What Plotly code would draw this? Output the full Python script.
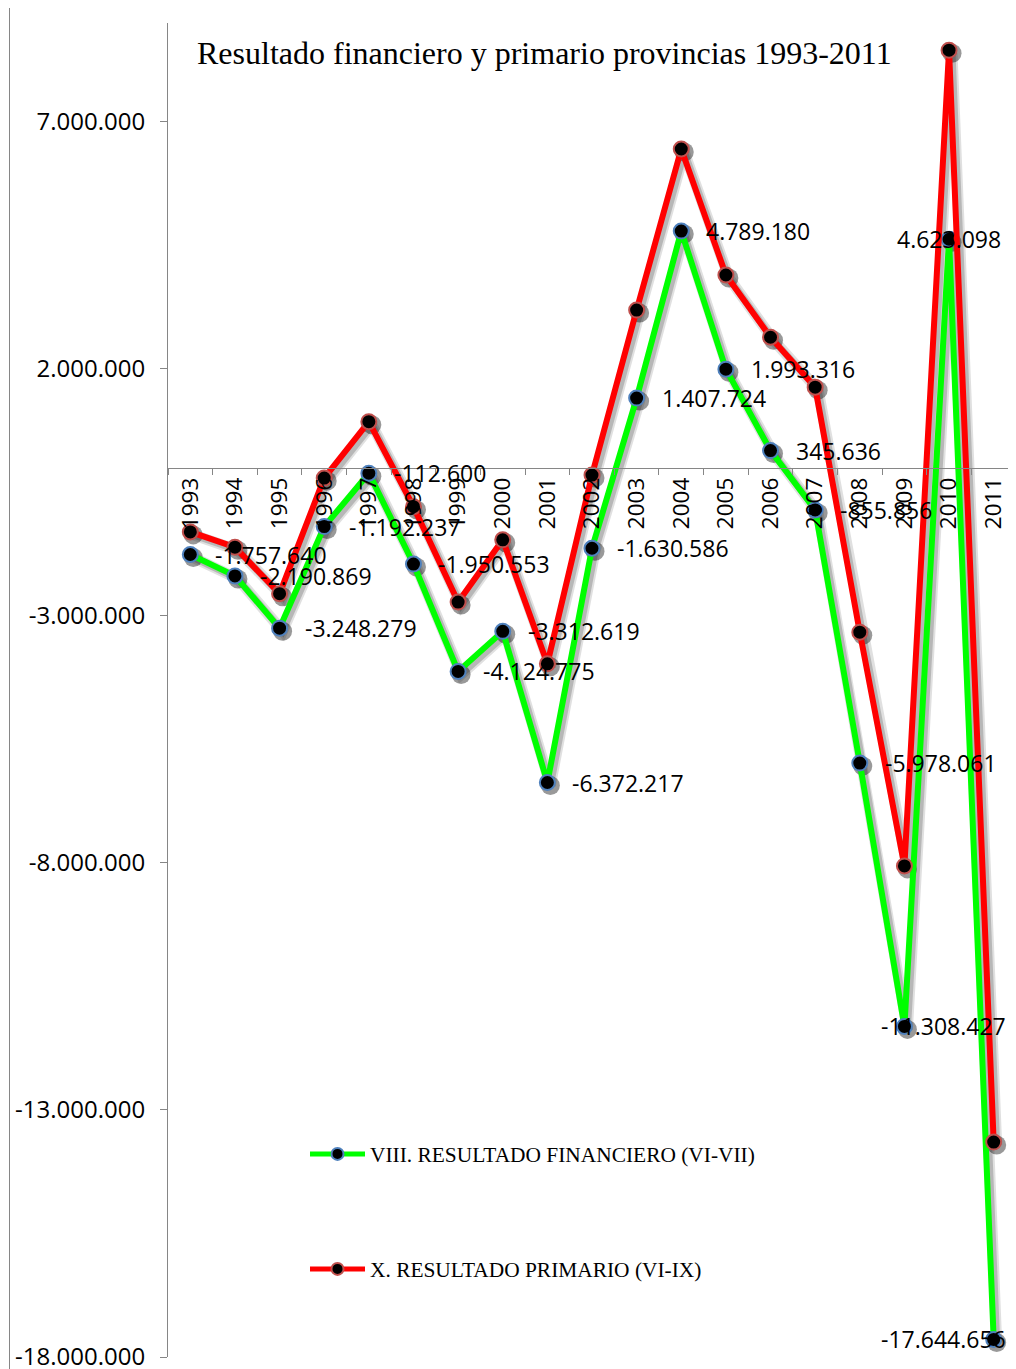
import plotly.graph_objects as go

years = [str(y) for y in range(1993, 2012)]
financiero = [-1757640, -2190869, -3248279, -1192237, -112600, -1950553, -4124775,
              -3312619, -6372217, -1630586, 1407724, 4789180, 1993316, 345636,
              -855856, -5978061, -11308427, 4623098, -17644656]
primario = [-1300000, -1610000, -2550000, -210000, 930000, -790000, -2720000,
            -1460000, -3970000, -150000, 3190000, 6450000, 3900000, 2640000,
            1630000, -3330000, -8060000, 8450000, -13650000]
ytick_vals = [7000000, 2000000, -3000000, -8000000, -13000000, -18000000]
title_text = "Resultado financiero y primario provincias 1993-2011"
name_fin = "VIII. RESULTADO FINANCIERO (VI-VII)"
name_pri = "X. RESULTADO PRIMARIO (VI-IX)"

OFF = 8  # page body margin of the html page
DX, DY = 3, 3  # shadow offset in px
W, H = 1016 - OFF, 1369 - OFF
ML, MR, MT = 168 - OFF, 0, 23 - OFF
MB = (H + OFF) - 1360
PW, PH = W - ML - MR, H - MT - MB
YMIN, YMAX = -18000000, 9000000
n = len(years)


def px_x(page_x):
    return (page_x - OFF - ML) / PW


def px_y(page_y):
    return (H - MB - (page_y - OFF)) / PH


def fmt(v):
    return f"{v:,}".replace(",", ".")


fig = go.Figure()

# shadow traces (on a subplot shifted a few px right/down, same scale)
for vals in (financiero, primario):
    fig.add_trace(go.Scatter(x=years, y=vals, mode="lines", xaxis="x", yaxis="y",
                             line=dict(color="rgba(0,0,0,0.12)", width=11),
                             showlegend=False, hoverinfo="skip"))
    fig.add_trace(go.Scatter(x=years, y=vals, mode="lines+markers", xaxis="x", yaxis="y",
                             line=dict(color="rgba(0,0,0,0.18)", width=7),
                             marker=dict(size=19, color="rgba(0,0,0,0.4)", line=dict(width=0)),
                             showlegend=False, hoverinfo="skip"))

fig.add_trace(go.Scatter(x=years, y=financiero, mode="lines+markers", name=name_fin,
                         xaxis="x2", yaxis="y2", legend="legend",
                         line=dict(color="#00FF00", width=6),
                         marker=dict(size=15, color="black", line=dict(color="#4F81BD", width=2))))
fig.add_trace(go.Scatter(x=years, y=primario, mode="lines+markers", name=name_pri,
                         xaxis="x2", yaxis="y2", legend="legend2",
                         line=dict(color="#FF0000", width=6),
                         marker=dict(size=15, color="black", line=dict(color="#C0504D", width=2))))

label_font = dict(family="Open Sans", size=23, color="black")
for i, v in enumerate(financiero):
    if i == n - 2:
        fig.add_annotation(x=i, y=v, xref="x2", yref="y2", text=fmt(v), showarrow=False,
                           xanchor="center", yanchor="middle", font=label_font)
    elif i >= n - 3:
        # Excel keeps these labels inside the plot area
        fig.add_annotation(x=px_x(1008), y=v, xref="paper", yref="y2", text=fmt(v),
                           showarrow=False, xanchor="right", yanchor="middle", font=label_font)
    else:
        fig.add_annotation(x=i, y=v, xref="x2", yref="y2", text=fmt(v), showarrow=False,
                           xanchor="left", yanchor="middle", xshift=23, font=label_font)

main_y_dom = [DY / PH, 1]
zero_pos = main_y_dom[0] + (main_y_dom[1] - main_y_dom[0]) * (0 - YMIN) / (YMAX - YMIN)
cat_px = PW / n
shadow_x_range = [-0.5, n - 0.5 - DX / cat_px]

legend_common = dict(xanchor="left", yanchor="middle", bgcolor="rgba(0,0,0,0)",
                     itemwidth=55, itemsizing="constant",
                     font=dict(family="Liberation Serif", size=21.4, color="black"))

fig.update_layout(
    width=W, height=H,
    margin=dict(l=ML, r=MR, t=MT, b=MB, autoexpand=False),
    paper_bgcolor="white", plot_bgcolor="rgba(0,0,0,0)",
    showlegend=True,
    xaxis=dict(domain=[DX / PW, 1], range=shadow_x_range, type="category", visible=False,
               anchor="y", automargin=False),
    yaxis=dict(domain=[0, 1 - DY / PH], range=[YMIN, YMAX], visible=False, anchor="x",
               automargin=False),
    xaxis2=dict(domain=[0, 1], range=[-0.5, n - 0.5], type="category",
                anchor="free", position=zero_pos, showline=True, linecolor="#868686",
                linewidth=1, ticks="outside", ticklen=6, tickcolor="#868686",
                tickson="boundaries", tickangle=-90, showgrid=False, zeroline=False,
                automargin=False,
                tickfont=dict(family="Open Sans", size=22.5, color="black")),
    yaxis2=dict(domain=main_y_dom, range=[YMIN, YMAX], anchor="x2",
                tickvals=ytick_vals, ticktext=[fmt(v) for v in ytick_vals],
                showline=True, linecolor="#868686",
                linewidth=1, ticks="outside", ticklen=7, tickcolor="#868686",
                showgrid=False, zeroline=False, ticklabelstandoff=10,
                ticklabeloverflow="allow", automargin=False,
                tickfont=dict(family="Open Sans", size=24, color="black")),
    legend=dict(x=px_x(305), y=px_y(1154), **legend_common),
    legend2=dict(x=px_x(305), y=px_y(1269), **legend_common),
)

fig.add_annotation(x=px_x(544), y=px_y(53), xref="paper", yref="paper",
                   text=title_text, showarrow=False, xanchor="center", yanchor="middle",
                   font=dict(family="Liberation Serif", size=32, color="black"))

# outer chart frame
fig.add_shape(type="rect", xref="paper", yref="paper",
              x0=px_x(9.5), x1=px_x(1013.5), y0=px_y(1380), y1=px_y(6.5),
              line=dict(color="#868686", width=1), fillcolor="rgba(0,0,0,0)", layer="below")

fig.write_html("out.html")
